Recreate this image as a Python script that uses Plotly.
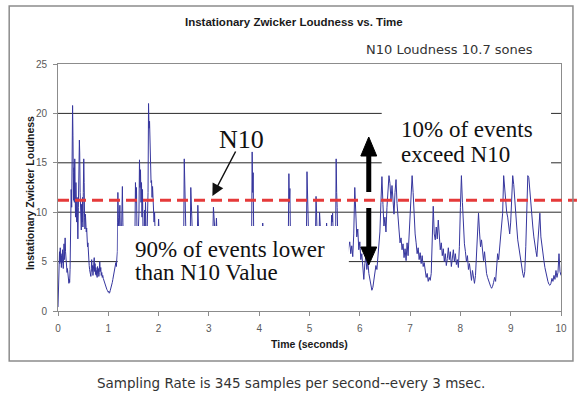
import plotly.graph_objects as go

# ---------------- data ----------------
# 0 - 1.17 s (fully visible part)
t_early = [
    0.000, 0.008, 0.015, 0.022, 0.030, 0.037, 0.045, 0.052, 0.060, 0.067,
    0.075, 0.082, 0.090, 0.097, 0.105, 0.112, 0.120, 0.127, 0.135, 0.142,
    0.150, 0.157, 0.165, 0.172, 0.180, 0.187, 0.195, 0.202, 0.210, 0.217,
    0.225, 0.232, 0.240, 0.250, 0.262, 0.272, 0.282, 0.290, 0.297, 0.304,
    0.310, 0.318, 0.325, 0.333, 0.340, 0.348, 0.356, 0.364, 0.372, 0.380,
    0.388, 0.395, 0.405, 0.415, 0.425, 0.432, 0.440, 0.448, 0.455, 0.463,
    0.470, 0.478, 0.487, 0.495, 0.503, 0.512, 0.520, 0.528, 0.536, 0.545,
    0.553, 0.562, 0.570, 0.578, 0.587, 0.595, 0.603, 0.612, 0.620, 0.628,
    0.637, 0.645, 0.653, 0.662, 0.670, 0.678, 0.687, 0.695, 0.703, 0.712,
    0.720, 0.728, 0.737, 0.745, 0.753, 0.762, 0.770, 0.778, 0.787, 0.795,
    0.803, 0.812, 0.820, 0.830, 0.840, 0.850, 0.860, 0.870, 0.880, 0.890,
    0.900, 0.910, 0.920, 0.930, 0.940, 0.950, 0.960, 0.970, 0.980, 0.990,
    1.000, 1.010, 1.020, 1.030, 1.040, 1.050, 1.060, 1.070, 1.080, 1.090,
    1.100, 1.110, 1.120, 1.130, 1.140, 1.150, 1.160, 1.170,
]
v_early = [
    0.4, 1.8, 4.0, 5.2, 6.0, 4.8, 6.4, 5.0, 5.8, 4.4,
    5.6, 4.9, 6.2, 5.0, 4.3, 5.5, 6.8, 5.2, 6.2, 7.4,
    6.0, 5.4, 4.5, 5.0, 3.9, 4.3, 3.6, 3.2, 3.0, 2.8,
    3.2, 2.9, 4.2, 8.0, 12.3, 10.5, 15.0, 20.8, 17.8, 14.0,
    11.2, 14.5, 11.0, 15.4, 12.0, 9.5, 13.0, 10.0, 9.0, 11.5,
    8.0, 7.3, 10.5, 14.0, 17.3, 16.0, 12.0, 9.0, 11.5, 8.2,
    10.8, 9.0, 11.5, 8.5, 12.0, 15.4, 13.0, 9.5, 8.3, 9.8,
    8.6, 8.0, 8.4, 7.2, 6.5, 6.9, 5.6, 5.0, 4.6, 4.2,
    3.7, 4.0, 3.5, 4.3, 5.2, 4.0, 4.6, 3.6, 5.0, 4.2,
    5.4, 4.0, 4.8, 3.7, 4.4, 3.6, 4.1, 3.4, 4.5, 3.8,
    4.3, 3.5, 3.9, 5.0, 4.0, 4.4, 3.6, 3.9, 3.4, 3.6,
    3.3, 3.1, 2.9, 2.8, 2.6, 2.5, 2.4, 2.2, 2.1, 2.0,
    1.9, 2.0, 1.8, 1.9, 2.1, 2.3, 2.6, 2.5, 2.9, 3.2,
    3.5, 3.4, 3.9, 4.2, 4.6, 4.9, 4.5, 5.6,
]

# 1.18 - 5.76 s (only the peaks above the text box are visible)
t_mid = [
    1.180, 1.185, 1.190, 1.200, 1.210, 1.220, 1.230, 1.240, 1.260, 1.270,
    1.280, 1.290, 1.300, 1.350, 1.400, 1.450, 1.500, 1.530, 1.540, 1.550,
    1.560, 1.570, 1.590, 1.610, 1.620, 1.630, 1.640, 1.650, 1.660, 1.670,
    1.680, 1.690, 1.710, 1.720, 1.730, 1.740, 1.750, 1.770, 1.790, 1.800,
    1.810, 1.820, 1.830, 1.840, 1.850, 1.860, 1.870, 1.880, 1.890, 1.900,
    1.910, 1.920, 1.930, 1.950, 1.990, 2.000, 2.010, 2.050, 2.150, 2.250,
    2.350, 2.450, 2.500, 2.510, 2.520, 2.530, 2.540, 2.560, 2.630, 2.640,
    2.650, 2.660, 2.670, 2.700, 2.770, 2.780, 2.790, 2.800, 2.850, 2.950,
    3.050, 3.080, 3.090, 3.100, 3.110, 3.120, 3.140, 3.150, 3.160, 3.200,
    3.300, 3.400, 3.500, 3.600, 3.700, 3.800, 3.850, 3.860, 3.870, 3.880,
    3.890, 3.950, 4.050, 4.070, 4.090, 4.150, 4.250, 4.350, 4.450, 4.550,
    4.580, 4.590, 4.600, 4.610, 4.620, 4.650, 4.750, 4.850, 4.920, 4.940,
    4.950, 4.960, 4.970, 4.980, 5.020, 5.100, 5.120, 5.130, 5.140, 5.150,
    5.190, 5.200, 5.210, 5.220, 5.280, 5.330, 5.340, 5.350, 5.400, 5.430,
    5.440, 5.450, 5.460, 5.470, 5.520, 5.530, 5.540, 5.550, 5.560, 5.620,
    5.700, 5.760,
]
v_mid = [
    6.0, 9.0, 12.0, 9.5, 7.5, 9.0, 10.7, 8.0, 7.0, 10.0,
    12.6, 9.0, 6.5, 5.5, 6.0, 5.0, 6.5, 8.0, 13.0, 11.0,
    12.5, 8.0, 7.0, 10.0, 15.3, 12.5, 14.3, 11.0, 13.0, 9.5,
    12.3, 8.0, 7.5, 10.2, 8.5, 11.0, 8.0, 7.5, 12.0, 21.0,
    18.5, 19.2, 16.0, 15.7, 13.0, 13.2, 11.5, 12.6, 10.5, 11.5,
    9.0, 10.0, 8.0, 7.0, 8.0, 9.3, 8.0, 6.0, 5.0, 6.0,
    5.0, 6.5, 8.0, 15.4, 12.0, 13.0, 8.5, 7.0, 7.5, 12.5,
    10.5, 10.2, 8.0, 6.0, 7.5, 10.7, 9.0, 7.5, 6.0, 5.0,
    6.5, 8.0, 10.5, 9.0, 9.6, 8.0, 8.2, 9.4, 8.0, 6.0,
    5.0, 6.0, 5.0, 6.0, 5.5, 6.0, 8.0, 16.1, 12.0, 14.0,
    8.0, 6.0, 7.5, 8.9, 7.5, 6.0, 5.0, 6.0, 5.5, 7.0,
    8.0, 13.9, 11.0, 12.4, 8.0, 6.5, 5.0, 6.0, 7.5, 8.0,
    14.1, 11.0, 10.5, 8.0, 6.0, 7.0, 8.0, 11.6, 10.0, 8.0,
    7.5, 10.0, 9.2, 8.0, 7.0, 8.0, 8.9, 8.0, 7.0, 8.0,
    9.7, 9.0, 9.9, 8.0, 8.0, 15.4, 12.0, 10.5, 8.0, 6.0,
    7.0, 6.0,
]

# 5.78 - 10 s (fully visible part)
t_late = [
    5.78, 5.80, 5.82, 5.84, 5.86, 5.88, 5.90, 5.92, 5.94, 5.96,
    5.98, 6.00, 6.02, 6.04, 6.06, 6.08, 6.10, 6.12, 6.14, 6.16,
    6.18, 6.20, 6.22, 6.24, 6.26, 6.28, 6.30, 6.32, 6.34, 6.36,
    6.38, 6.40, 6.42, 6.44, 6.46, 6.48, 6.50, 6.52, 6.54, 6.56,
    6.58, 6.60, 6.62, 6.64, 6.66, 6.68, 6.70, 6.72, 6.74, 6.76,
    6.78, 6.80, 6.82, 6.84, 6.86, 6.88, 6.90, 6.92, 6.94, 6.96,
    6.98, 7.00, 7.02, 7.04, 7.06, 7.08, 7.10, 7.12, 7.14, 7.16,
    7.18, 7.20, 7.22, 7.24, 7.26, 7.28, 7.30, 7.32, 7.34, 7.36,
    7.38, 7.40, 7.42, 7.44, 7.46, 7.48, 7.50, 7.52, 7.54, 7.56,
    7.58, 7.60, 7.62, 7.64, 7.66, 7.68, 7.70, 7.72, 7.74, 7.76,
    7.78, 7.80, 7.82, 7.84, 7.86, 7.88, 7.90, 7.92, 7.94, 7.96,
    7.98, 8.00, 8.02, 8.04, 8.06, 8.08, 8.10, 8.12, 8.14, 8.16,
    8.18, 8.20, 8.22, 8.24, 8.26, 8.28, 8.30, 8.32, 8.34, 8.36,
    8.38, 8.40, 8.42, 8.44, 8.46, 8.48, 8.50, 8.52, 8.54, 8.56,
    8.58, 8.60, 8.62, 8.64, 8.66, 8.68, 8.70, 8.72, 8.74, 8.76,
    8.78, 8.80, 8.82, 8.84, 8.86, 8.88, 8.90, 8.92, 8.94, 8.96,
    8.98, 9.00, 9.02, 9.04, 9.06, 9.08, 9.10, 9.12, 9.14, 9.16,
    9.18, 9.20, 9.22, 9.24, 9.26, 9.28, 9.30, 9.32, 9.34, 9.36,
    9.38, 9.40, 9.42, 9.44, 9.46, 9.48, 9.50, 9.52, 9.54, 9.56,
    9.58, 9.60, 9.62, 9.64, 9.66, 9.68, 9.70, 9.72, 9.74, 9.76,
    9.78, 9.80, 9.82, 9.84, 9.86, 9.88, 9.90, 9.92, 9.94, 9.96,
    9.98, 10.00,
]
v_late = [
    6.5, 7.0, 5.8, 6.6, 5.5, 7.8, 12.5, 9.0, 7.5, 8.3,
    6.2, 7.0, 5.2, 5.8, 4.5, 3.2, 4.8, 5.5, 4.2, 5.0,
    3.8, 3.2, 2.6, 2.1, 2.4, 3.0, 3.8, 4.6, 4.2, 5.5,
    6.2, 8.0, 11.0, 13.6, 10.8, 8.6, 9.5, 8.0, 10.5, 12.5,
    13.7, 12.9, 11.2, 12.7, 11.6, 9.8, 12.0, 13.3, 10.9, 9.0,
    8.2, 6.9, 7.4, 6.2, 6.8, 5.4, 6.3, 5.1, 6.9, 5.6,
    7.5, 8.5, 11.0, 13.7, 12.0, 9.5, 7.8, 6.9, 5.8, 6.4,
    5.2, 5.9, 4.8, 5.6, 4.5, 4.9, 3.9, 3.4, 3.8, 3.0,
    3.4, 3.1, 3.8, 6.5, 10.6, 7.8, 7.2, 8.5, 7.3, 9.2,
    7.0, 6.2, 6.9, 5.6, 6.3, 5.0, 5.8, 4.6, 5.3, 6.4,
    5.2, 6.0, 4.5, 5.5, 6.2, 5.0, 5.8, 4.7, 5.2, 4.4,
    6.5, 10.5, 13.7, 11.0, 8.5, 6.8, 6.0, 5.0, 5.6, 4.2,
    4.8, 3.6, 3.1, 4.1, 3.3, 2.8, 3.6, 6.0, 7.8, 9.9,
    8.0, 6.5, 7.2, 5.8, 5.1, 6.0, 4.8, 3.8, 3.4, 3.0,
    2.8, 2.5, 2.3, 2.5, 2.9, 3.4, 3.0, 4.2, 5.8, 5.2,
    6.6, 7.2, 8.6, 9.9, 13.7, 12.2, 11.2, 10.0, 9.5, 8.2,
    7.8, 9.0, 10.9, 13.7, 12.8, 11.0, 9.6, 8.5, 7.2, 6.5,
    5.5, 4.9, 4.5, 3.8, 3.4, 4.0, 6.5, 10.5, 13.7, 13.5,
    12.0, 11.2, 9.8, 8.5, 7.5, 6.6, 6.1, 5.5, 7.0, 8.9,
    9.9, 7.5, 6.5, 5.6, 5.1, 4.4, 3.8, 3.4, 3.0, 2.7,
    2.6, 2.8, 3.3, 3.0, 3.6, 3.2, 4.1, 3.4, 3.9, 5.8,
    4.0, 3.6,
]

n10_level = 11.2
x_tick_vals = [0, 1, 2, 3, 4, 5, 6, 7, 8, 9, 10]
y_tick_vals = [0, 5, 10, 15, 20, 25]
grid_vals = [5, 10, 15, 20]

assert len(t_early) == len(v_early)
assert len(t_mid) == len(v_mid)
assert len(t_late) == len(v_late)

t_all = t_early + t_mid + t_late
v_all = v_early + v_mid + v_late

# ---------------- geometry helpers ----------------
W, H = 579, 395
L, R, T, B = 58, 16, 64, 84
PW = W - L - R
PH = H - T - B
X_MAX, Y_MAX = 10, 25


def dx(px):
    return (px - L) / PW * X_MAX


def dy(py):
    return (T + PH - py) / PH * Y_MAX


def fx(px):
    return (px - L) / PW


def fy(py):
    return (T + PH - py) / PH


SANS = "Liberation Sans, Arial, sans-serif"
SERIF = "Liberation Serif, Times New Roman, serif"
TAHOMA = "DejaVu Sans, Verdana, sans-serif"

fig = go.Figure()
fig.add_trace(go.Scatter(
    x=t_all, y=v_all, mode="lines",
    line=dict(color="#36369e", width=1),
    hoverinfo="skip", showlegend=False,
))

shapes = []
for g in grid_vals:
    shapes.append(dict(type="line", xref="x", yref="y", x0=0, x1=X_MAX, y0=g, y1=g,
                       line=dict(color="#2a2a2a", width=1), layer="below"))

# white text boxes (cover part of the chart)
shapes.append(dict(type="rect", xref="x", yref="y", x0=dx(118), x1=dx(350),
                   y0=dy(309.5), y1=dy(226), fillcolor="white", line=dict(width=0), layer="above"))
shapes.append(dict(type="rect", xref="x", yref="y", x0=dx(383), x1=dx(553),
                   y0=dy(168), y1=dy(100), fillcolor="white", line=dict(width=0), layer="above"))

# N10 dashed level line
shapes.append(dict(type="line", xref="paper", yref="y", x0=0, x1=fx(579),
                   y0=n10_level, y1=n10_level,
                   line=dict(color="#e53a3a", width=3, dash="11px,6px"), layer="above"))

# thick up / down arrows
ax_c = dx(370)
hw = 8 / PW * X_MAX
shapes.append(dict(type="line", xref="x", yref="y", x0=ax_c, x1=ax_c, y0=dy(192), y1=dy(154),
                   line=dict(color="black", width=5), layer="above"))
shapes.append(dict(type="path", xref="x", yref="y",
                   path=f"M {ax_c - hw},{dy(156)} L {ax_c + hw},{dy(156)} L {ax_c},{dy(137)} Z",
                   fillcolor="black", line=dict(color="black", width=1), layer="above"))
shapes.append(dict(type="line", xref="x", yref="y", x0=ax_c, x1=ax_c, y0=dy(208), y1=dy(249),
                   line=dict(color="black", width=5), layer="above"))
shapes.append(dict(type="path", xref="x", yref="y",
                   path=f"M {ax_c - hw},{dy(247)} L {ax_c + hw},{dy(247)} L {ax_c},{dy(265)} Z",
                   fillcolor="black", line=dict(color="black", width=1), layer="above"))

# outer frame
shapes.append(dict(type="rect", xref="paper", yref="paper", x0=fx(9), x1=fx(575),
                   y0=fy(361), y1=fy(6), line=dict(color="#8c8c8c", width=1.5),
                   fillcolor="rgba(0,0,0,0)", layer="above"))

annotations = [
    dict(text="<b>Instationary Zwicker Loudness vs. Time</b>", x=fx(295), y=fy(22),
         xref="paper", yref="paper", showarrow=False, xanchor="center", yanchor="middle",
         font=dict(family=SANS, size=11.5, color="#1a1a1a")),
    dict(text="N10 Loudness 10.7 sones", x=fx(451), y=fy(50),
         xref="paper", yref="paper", showarrow=False, xanchor="center", yanchor="middle",
         font=dict(family=TAHOMA, size=13, color="#333333")),
    dict(text="<b>Instationary Zwicker Loudness</b>", x=fx(30), y=fy(193), textangle=-90,
         xref="paper", yref="paper", showarrow=False, xanchor="center", yanchor="middle",
         font=dict(family=SANS, size=10.5, color="#1a1a1a")),
    dict(text="<b>Time (seconds)</b>", x=fx(310), y=fy(344),
         xref="paper", yref="paper", showarrow=False, xanchor="center", yanchor="middle",
         font=dict(family=SANS, size=10.5, color="#1a1a1a")),
    dict(text="Sampling Rate is 345 samples per second--every 3 msec.", x=fx(292), y=fy(383),
         xref="paper", yref="paper", showarrow=False, xanchor="center", yanchor="middle",
         font=dict(family=TAHOMA, size=13.5, color="#333333")),
    dict(text="N10", x=fx(242), y=fy(139),
         xref="paper", yref="paper", showarrow=False, xanchor="center", yanchor="middle",
         font=dict(family=SERIF, size=26, color="#111111")),
    dict(text="90% of events lower", x=fx(133), y=fy(249),
         xref="paper", yref="paper", showarrow=False, xanchor="left", yanchor="middle",
         font=dict(family=SERIF, size=23, color="#111111")),
    dict(text="than N10 Value", x=fx(133), y=fy(272),
         xref="paper", yref="paper", showarrow=False, xanchor="left", yanchor="middle",
         font=dict(family=SERIF, size=23, color="#111111")),
    dict(text="10% of events", x=fx(400), y=fy(129),
         xref="paper", yref="paper", showarrow=False, xanchor="left", yanchor="middle",
         font=dict(family=SERIF, size=23, color="#111111")),
    dict(text="exceed N10", x=fx(400), y=fy(154),
         xref="paper", yref="paper", showarrow=False, xanchor="left", yanchor="middle",
         font=dict(family=SERIF, size=23, color="#111111")),
    dict(text="", x=dx(213), y=dy(196), xref="x", yref="y",
         ax=24, ay=-46, showarrow=True, arrowhead=2, arrowsize=1.6, arrowwidth=1.5,
         arrowcolor="#111111"),
]

axis_common = dict(
    showline=True, linecolor="#8c8c8c", linewidth=1, mirror=True,
    ticks="outside", ticklen=4, tickcolor="#8c8c8c", tickwidth=1,
    showgrid=False, zeroline=False,
    tickfont=dict(family=SANS, size=10, color="#595959"),
)

fig.update_layout(
    width=W, height=H,
    margin=dict(l=L, r=R, t=T, b=B, pad=0),
    paper_bgcolor="white", plot_bgcolor="white",
    xaxis=dict(range=[0, X_MAX], tickvals=x_tick_vals, ticklabelstandoff=4, **axis_common),
    yaxis=dict(range=[0, Y_MAX], tickvals=y_tick_vals, ticklabelstandoff=4, **axis_common),
    shapes=shapes,
    annotations=annotations,
    showlegend=False,
)

fig.write_html("out.html")
